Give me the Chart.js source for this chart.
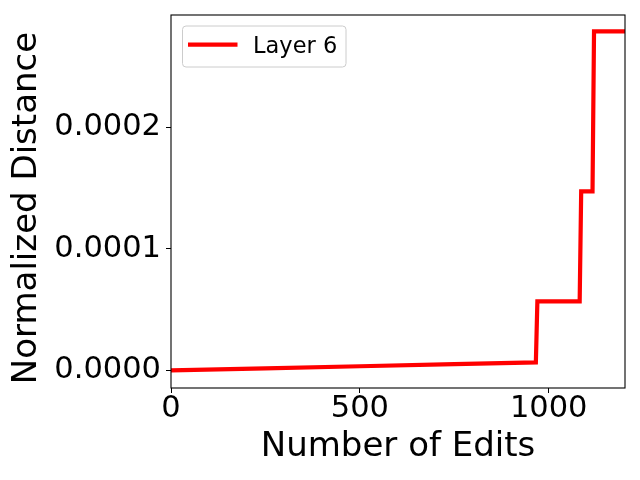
<!DOCTYPE html>
<html>
<head>
<meta charset="utf-8">
<script src="https://cdn.jsdelivr.net/npm/chart.js@4/dist/chart.umd.min.js"></script>
<style>
  html, body { margin: 0; padding: 0; background: #ffffff; }
  canvas { display: block; }
</style>
</head>
<body>
<canvas id="c" width="640" height="480"></canvas>
<script>
// ---- data ----
const seriesLabel = 'Layer 6';
const edits    = [0,      250,     500,     750,     966,     970,      1082,     1086,     1116,     1120,     1202];
const distance = [0.0000000, 0.0000017, 0.0000034, 0.0000051, 0.0000066, 0.0000568, 0.0000568, 0.0001473, 0.0001473, 0.0002790, 0.0002790];
const xTickValues = [0, 500, 1000];
const yTickValues = [0, 0.0001, 0.0002];
const xLimits = [0, 1202];
const yLimits = [-0.0000145, 0.0002925];
const xTitle = 'Number of Edits';
const yTitle = 'Normalized Distance';

const FONT = "'DejaVu Sans', 'Liberation Sans', sans-serif";

const frame = {
  id: 'frame',
  afterDatasetsDraw(chart) {
    const a = chart.chartArea, ctx = chart.ctx;
    ctx.save();
    ctx.strokeStyle = '#000';
    ctx.lineWidth = 1.1;
    ctx.strokeRect(a.left, a.top, a.right - a.left, a.bottom - a.top);
    ctx.restore();
  }
};

// y-axis title, drawn beside the y scale (offset along the axis as in the reference)
const yAxisTitle = {
  id: 'yAxisTitle',
  afterDraw(chart) {
    const s = chart.scales.y, ctx = chart.ctx;
    ctx.save();
    ctx.translate(s.left + 27.5, (s.top + s.bottom) / 2 + 6.5);
    ctx.rotate(-Math.PI / 2);
    ctx.fillStyle = '#000';
    ctx.font = '34px ' + FONT;
    ctx.textAlign = 'center';
    ctx.textBaseline = 'middle';
    ctx.fillText(yTitle, 0, 0);
    ctx.restore();
  }
};

const insideLegend = {
  id: 'insideLegend',
  afterDraw(chart) {
    const a = chart.chartArea, ctx = chart.ctx;
    const ds = chart.data.datasets[0];
    const bx = a.left + 11.5, by = a.top + 11, bw = 163.5, bh = 41, r = 3.5;
    ctx.save();
    ctx.beginPath();
    ctx.moveTo(bx + r, by);
    ctx.lineTo(bx + bw - r, by);
    ctx.quadraticCurveTo(bx + bw, by, bx + bw, by + r);
    ctx.lineTo(bx + bw, by + bh - r);
    ctx.quadraticCurveTo(bx + bw, by + bh, bx + bw - r, by + bh);
    ctx.lineTo(bx + r, by + bh);
    ctx.quadraticCurveTo(bx, by + bh, bx, by + bh - r);
    ctx.lineTo(bx, by + r);
    ctx.quadraticCurveTo(bx, by, bx + r, by);
    ctx.closePath();
    ctx.fillStyle = 'rgba(255,255,255,0.8)';
    ctx.fill();
    ctx.strokeStyle = '#cccccc';
    ctx.lineWidth = 1;
    ctx.stroke();
    ctx.beginPath();
    ctx.moveTo(bx + 5.5, by + 18.7);
    ctx.lineTo(bx + 55, by + 18.7);
    ctx.strokeStyle = ds.borderColor;
    ctx.lineWidth = ds.borderWidth;
    ctx.stroke();
    ctx.fillStyle = '#000';
    ctx.font = '22.5px ' + FONT;
    ctx.textBaseline = 'alphabetic';
    ctx.textAlign = 'left';
    ctx.fillText(ds.label, bx + 70.5, by + 27.3);
    ctx.restore();
  }
};

new Chart(document.getElementById('c'), {
  type: 'line',
  data: {
    datasets: [{
      label: seriesLabel,
      data: edits.map((x, i) => ({ x: x, y: distance[i] })),
      borderColor: '#ff0000',
      backgroundColor: '#ff0000',
      borderWidth: 4.2,
      pointRadius: 0,
      tension: 0,
      fill: false
    }]
  },
  options: {
    responsive: false,
    animation: false,
    devicePixelRatio: 1,
    layout: { autoPadding: false, padding: { top: 15, right: 15, left: 0, bottom: 0 } },
    plugins: { legend: { display: false }, tooltip: { enabled: false } },
    scales: {
      x: {
        type: 'linear',
        min: xLimits[0], max: xLimits[1],
        afterBuildTicks: s => { s.ticks = xTickValues.map(v => ({ value: v })); },
        afterFit: s => { s.height = 92; s.paddingLeft = 0; s.paddingRight = 0; },
        ticks: {
          color: '#000', font: { family: FONT, size: 30.5, lineHeight: 1 },
          padding: 1, maxRotation: 0, autoSkip: false,
          callback: v => String(v)
        },
        grid: { drawOnChartArea: false, drawTicks: true, tickLength: 5, color: '#000', lineWidth: 1 },
        border: { display: false },
        title: {
          display: true, text: xTitle, color: '#000',
          font: { family: FONT, size: 34, lineHeight: 1.2 },
          padding: { top: 0, bottom: 12 }
        }
      },
      y: {
        type: 'linear',
        min: yLimits[0], max: yLimits[1],
        afterBuildTicks: s => { s.ticks = yTickValues.map(v => ({ value: v })); },
        afterFit: s => { s.width = 171; s.paddingTop = 0; s.paddingBottom = 0; },
        ticks: {
          color: '#000', font: { family: FONT, size: 30.5 },
          padding: 5, autoSkip: false,
          callback: v => Number(v).toFixed(4)
        },
        grid: { drawOnChartArea: false, drawTicks: true, tickLength: 5, color: '#000', lineWidth: 1 },
        border: { display: false },
        title: { display: false, text: yTitle }
      }
    }
  },
  plugins: [frame, yAxisTitle, insideLegend]
});
</script>
</body>
</html>
